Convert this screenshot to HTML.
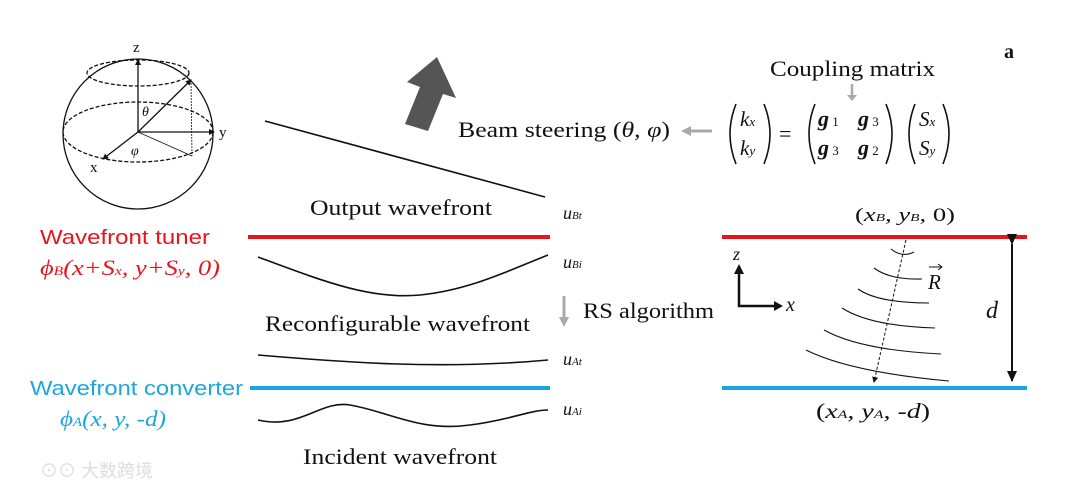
<!DOCTYPE html>
<html><head><meta charset="utf-8"><style>
body{margin:0;background:#fff}
svg{display:block}
.s{font-family:"Liberation Serif",serif;fill:#111}
.i{font-style:italic}
</style></head><body>
<svg width="1080" height="493" viewBox="0 0 1080 493" xmlns="http://www.w3.org/2000/svg">
<defs>
<marker id="ab" markerWidth="12" markerHeight="12" refX="10" refY="6" orient="auto" markerUnits="userSpaceOnUse"><path d="M0,1 L11,6 L0,11z" fill="#111"/></marker>
<marker id="as" markerWidth="6" markerHeight="6" refX="5" refY="3" orient="auto" markerUnits="userSpaceOnUse"><path d="M0,0 L6,3 L0,6z" fill="#111"/></marker>
</defs>
<g fill="none" stroke="#111" stroke-width="1.3">
<circle cx="138" cy="134" r="75"/>
<ellipse cx="138" cy="132" rx="75" ry="30" stroke-dasharray="4,2"/>
<ellipse cx="138" cy="73" rx="51" ry="13" stroke-dasharray="4,2"/>
<line x1="138" y1="132" x2="138" y2="60" marker-end="url(#as)"/>
<line x1="138" y1="132" x2="214" y2="132" marker-end="url(#as)"/>
<line x1="138" y1="132" x2="103" y2="159" marker-end="url(#as)"/>
<line x1="138" y1="132" x2="191" y2="80" marker-end="url(#as)"/>
<line x1="191" y1="80" x2="192" y2="156" stroke-width="0.8" stroke-dasharray="2,1"/>
<line x1="138" y1="132" x2="192" y2="156" stroke-width="0.8"/>
</g>
<text class="s" x="133" y="52" font-size="15">z</text>
<text class="s" x="219" y="137" font-size="15">y</text>
<text class="s" x="90" y="172" font-size="15">x</text>
<text class="s i" x="142" y="116" font-size="14">θ</text>
<text class="s i" x="131" y="155" font-size="14">φ</text>
<polygon points="437,57 456,98 443,94 428,131 405,124 420,87 407,82" fill="#555"/>
<text class="s" x="458" y="137" font-size="22" textLength="212" lengthAdjust="spacingAndGlyphs">Beam steering (<tspan class="i">θ</tspan>, <tspan class="i">φ</tspan>)</text>
<line x1="712" y1="131" x2="686" y2="131" stroke="#aaa" stroke-width="3"/>
<polygon points="681,131 691,126 691,136" fill="#aaa"/>
<text class="s" x="770" y="76" font-size="22" textLength="165" lengthAdjust="spacingAndGlyphs">Coupling matrix</text>
<line x1="852" y1="84" x2="852" y2="96" stroke="#aaa" stroke-width="2.5"/>
<polygon points="847,95 857,95 852,101" fill="#aaa"/>
<g fill="none" stroke="#111" stroke-width="1.6">
<path d="M736,104 Q724,134 736,164"/>
<path d="M764,104 Q776,134 764,164"/>
<path d="M815,104 Q803,134 815,164"/>
<path d="M886,104 Q898,134 886,164"/>
<path d="M915,104 Q903,134 915,164"/>
<path d="M943,104 Q955,134 943,164"/>
</g>
<text class="s i" x="740" y="126" font-size="21">k<tspan font-size="13">x</tspan></text>
<text class="s i" x="740" y="155" font-size="21">k<tspan font-size="13">y</tspan></text>
<text class="s" x="779" y="141" font-size="22">=</text>
<text class="s i" x="818" y="126" font-size="22" font-weight="bold">g<tspan font-size="13" font-weight="normal" font-style="normal"> 1</tspan></text>
<text class="s i" x="858" y="126" font-size="22" font-weight="bold">g<tspan font-size="13" font-weight="normal" font-style="normal"> 3</tspan></text>
<text class="s i" x="818" y="155" font-size="22" font-weight="bold">g<tspan font-size="13" font-weight="normal" font-style="normal"> 3</tspan></text>
<text class="s i" x="858" y="155" font-size="22" font-weight="bold">g<tspan font-size="13" font-weight="normal" font-style="normal"> 2</tspan></text>
<text class="s i" x="919" y="126" font-size="21">S<tspan font-size="13">x</tspan></text>
<text class="s i" x="919" y="155" font-size="21">S<tspan font-size="13">y</tspan></text>
<text class="s" x="1004" y="58" font-size="20" font-weight="bold">a</text>
<line x1="265" y1="121" x2="545" y2="197" stroke="#111" stroke-width="1.6"/>
<text class="s" x="310" y="215" font-size="22" textLength="182" lengthAdjust="spacingAndGlyphs">Output wavefront</text>
<line x1="248" y1="237" x2="550" y2="237" stroke="#e8141c" stroke-width="4"/>
<text x="40" y="244" font-family="Liberation Sans,sans-serif" font-size="20" fill="#e8141c" textLength="170" lengthAdjust="spacingAndGlyphs">Wavefront tuner</text>
<text x="40" y="275" font-family="Liberation Serif,serif" font-style="italic" font-size="22" fill="#e8141c" textLength="180" lengthAdjust="spacingAndGlyphs">ϕ<tspan font-size="13">B</tspan>(x+S<tspan font-size="13">x</tspan>, y+S<tspan font-size="13">y</tspan>, 0)</text>
<path d="M258,257 C320,280 370,300 420,295 C470,290 510,270 548,255" fill="none" stroke="#111" stroke-width="1.6"/>
<text class="s i" x="563" y="219" font-size="18">u<tspan font-size="11">Bt</tspan></text>
<text class="s i" x="563" y="268" font-size="18">u<tspan font-size="11">Bi</tspan></text>
<line x1="564" y1="296" x2="564" y2="318" stroke="#aaa" stroke-width="3"/>
<polygon points="559,317 569,317 564,327" fill="#aaa"/>
<text class="s" x="583" y="318" font-size="22" textLength="131" lengthAdjust="spacingAndGlyphs">RS algorithm</text>
<text class="s" x="265" y="331" font-size="22" textLength="265" lengthAdjust="spacingAndGlyphs">Reconfigurable wavefront</text>
<path d="M258,355 C340,362 440,370 548,360" fill="none" stroke="#111" stroke-width="1.6"/>
<text class="s i" x="563" y="365" font-size="18">u<tspan font-size="11">At</tspan></text>
<line x1="250" y1="388" x2="550" y2="388" stroke="#1aa6e0" stroke-width="4"/>
<text x="30" y="395" font-family="Liberation Sans,sans-serif" font-size="20" fill="#1aa6e0" textLength="213" lengthAdjust="spacingAndGlyphs">Wavefront converter</text>
<text x="60" y="426" font-family="Liberation Serif,serif" font-style="italic" font-size="22" fill="#1aa6e0" textLength="106" lengthAdjust="spacingAndGlyphs">ϕ<tspan font-size="13">A</tspan>(x, y, -d)</text>
<path d="M258,420 C300,430 320,400 350,405 C390,412 420,432 470,425 C510,420 530,410 548,410" fill="none" stroke="#111" stroke-width="1.6"/>
<text class="s i" x="563" y="415" font-size="18">u<tspan font-size="11">Ai</tspan></text>
<text class="s" x="303" y="464" font-size="22" textLength="194" lengthAdjust="spacingAndGlyphs">Incident wavefront</text>
<text class="s" x="855" y="221" font-size="19" textLength="100" lengthAdjust="spacingAndGlyphs">(<tspan class="i">x<tspan font-size="11">B</tspan>, y<tspan font-size="11">B</tspan></tspan>, 0)</text>
<line x1="722" y1="237" x2="1027" y2="237" stroke="#e8141c" stroke-width="4"/>
<line x1="722" y1="388" x2="1027" y2="388" stroke="#1aa6e0" stroke-width="4"/>
<text class="s" x="816" y="418" font-size="21" textLength="114" lengthAdjust="spacingAndGlyphs">(<tspan class="i">x<tspan font-size="12">A</tspan>, y<tspan font-size="12">A</tspan>, -d</tspan>)</text>
<line x1="1012" y1="244" x2="1012" y2="381" stroke="#111" stroke-width="2" marker-end="url(#ab)" marker-start="url(#ab)"/>
<text class="s i" x="986" y="318" font-size="24">d</text>
<polyline points="739,272 739,306 776,306" fill="none" stroke="#111" stroke-width="2.5"/>
<polygon points="734,274 744,274 739,264" fill="#111"/>
<polygon points="774,301 774,311 783,306" fill="#111"/>
<text class="s i" x="733" y="260" font-size="18">z</text>
<text class="s i" x="786" y="311" font-size="20">x</text>
<line x1="906" y1="240" x2="874" y2="382" stroke="#111" stroke-width="1" stroke-dasharray="3,2" marker-end="url(#as)"/>
<g fill="none" stroke="#111" stroke-width="1.1">
<path d="M891,249 Q902,258 914,252"/>
<path d="M874,268 Q890,280 922,279"/>
<path d="M858,289 Q878,303 929,303"/>
<path d="M842,308 Q870,326 935,328"/>
<path d="M824,330 Q860,350 941,354"/>
<path d="M806,350 Q850,372 949,381"/>
</g>
<text class="s i" x="928" y="289" font-size="21">R</text>
<line x1="929" y1="267" x2="941" y2="267" stroke="#111" stroke-width="1"/>
<path d="M938,264 L942,267 L938,270" fill="none" stroke="#111" stroke-width="1"/>
<text x="40" y="477" font-family="Liberation Sans,'Noto Sans CJK SC',sans-serif" font-size="18" fill="#ddd">⊙⊙ 大数跨境</text>
</svg>
</body></html>
